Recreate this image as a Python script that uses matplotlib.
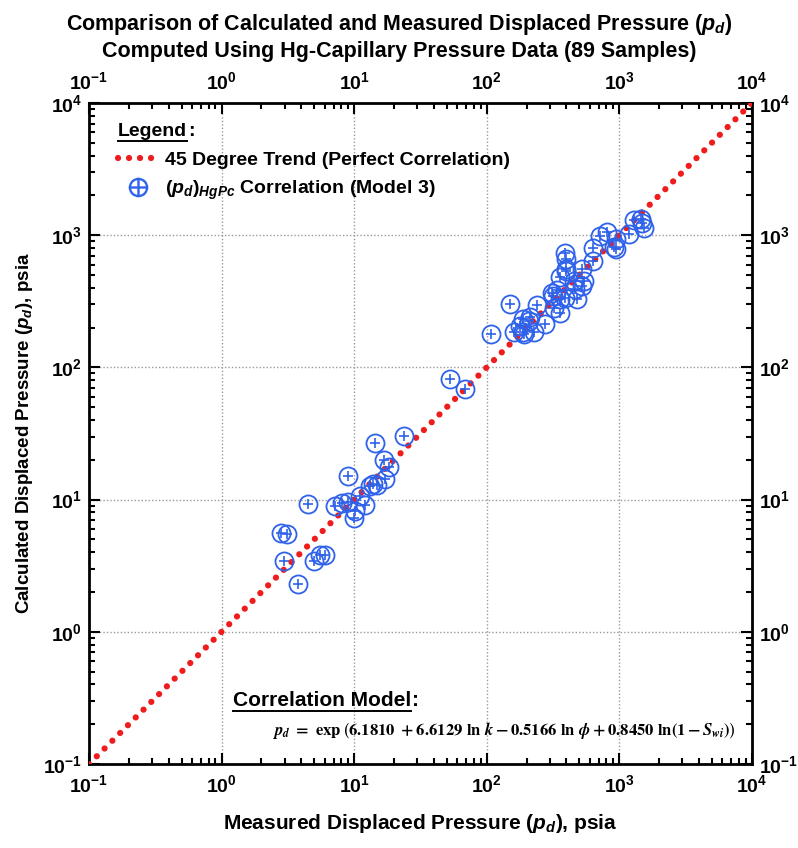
import matplotlib
matplotlib.use("Agg")
import matplotlib.pyplot as plt
from matplotlib.lines import Line2D
from matplotlib.ticker import LogLocator, NullFormatter

# measured vs calculated displacement pressure, psia
measured = [2.79, 3.10, 2.97, 3.79, 4.99, 5.53, 6.04, 4.52, 7.23, 8.96, 10.2, 10.0,
            11.1, 12.1, 8.96, 14.0, 14.9, 17.2, 18.5, 16.9, 14.4, 23.9, 8.1, 13.2,
            53.2, 69.0,
            107, 149, 160, 188, 229, 214, 188, 278, 240, 321, 360, 318, 340, 393,
            482, 454, 540, 360, 400, 526, 400, 393, 637, 637, 723, 803, 940, 940,
            1184, 1537, 1291, 1449,
            192, 360, 526, 207, 180, 312, 468, 1493, 912, 400]
calculated = [5.6, 5.5, 3.41, 2.31, 3.45, 3.78, 3.83, 9.33, 8.9, 9.54, 8.15, 7.26,
              10.6, 9.17, 15.2, 13.2, 12.8, 14.3, 17.7, 19.9, 26.9, 30.2, 9.5, 12.6,
              82.0, 69.0,
              179, 304, 187, 185, 187, 242, 234, 212, 295, 283, 259, 347, 385, 337,
              331, 450, 450, 479, 537, 553, 658, 739, 643, 806, 988, 1059, 944, 792,
              1018, 1144, 1305, 1322,
              178, 327, 413, 224, 206, 368, 390, 1233, 808, 552]
trend = [0.1, 1e4]

BLUE = "#2f62ea"
RED = "#ee1c1c"
DOTS = (0, (0.01, 1.75))

plt.rcParams["font.family"] = ["Liberation Sans", "DejaVu Sans"]
plt.rcParams["font.weight"] = "bold"
plt.rcParams["axes.labelweight"] = "bold"
plt.rcParams["axes.unicode_minus"] = False
plt.rcParams["mathtext.fontset"] = "custom"
plt.rcParams["mathtext.rm"] = "Liberation Sans:bold"
plt.rcParams["mathtext.it"] = "Liberation Sans:italic:bold"
plt.rcParams["mathtext.bf"] = "Liberation Sans:bold"

fig = plt.figure(figsize=(7.98, 8.48), dpi=100)
ax = fig.add_axes([0.1115, 0.099, 0.8305, 0.7795])

ax.plot(trend, trend, color=RED, lw=4.5, ls=DOTS, dash_capstyle="round", zorder=3)
ax.plot(measured, calculated, ls="none", marker="o", ms=13, mfc="none", mec=BLUE,
        mew=1.3, zorder=4)
ax.plot(measured, calculated, ls="none", marker="+", ms=7.5, mec=BLUE, mew=1.2, zorder=4)

ax.set_xscale("log")
ax.set_yscale("log")
ax.set_xlim(0.1, 1e4)
ax.set_ylim(0.1, 1e4)

for axis in (ax.xaxis, ax.yaxis):
    axis.set_major_locator(LogLocator(base=10, numticks=10))
    axis.set_minor_locator(LogLocator(base=10, subs=range(2, 10), numticks=10))
    axis.set_minor_formatter(NullFormatter())

ax.tick_params(which="both", direction="in", top=True, right=True,
               labeltop=True, labelright=True, labelsize=14, width=1.5)
ax.tick_params(which="major", length=8, pad=7)
ax.tick_params(axis="y", which="major", right=True, pad=5)
ax.tick_params(which="minor", length=4)
for sp in ax.spines.values():
    sp.set_linewidth(2)

ax.grid(True, which="major", color="#9a9a9a", lw=1, ls=(0, (1, 1.5)))

ax.set_xlabel(r"Measured Displaced Pressure ($p_d$), psia", fontsize=15, labelpad=12)
ax.set_ylabel(r"Calculated Displaced Pressure ($p_d$), psia", fontsize=13.5, labelpad=6)
fig.text(0.5, 0.986, "Comparison of Calculated and Measured Displaced Pressure ($p_d$)\n"
         "Computed Using Hg-Capillary Pressure Data (89 Samples)",
         ha="center", va="top", fontsize=15.5, linespacing=1.25)

# legend block
handles = [Line2D([], [], color=RED, lw=4.5, ls=DOTS, dash_capstyle="round"),
           Line2D([], [], ls="none", marker="$\u2295$", ms=14, mec=BLUE, mfc=BLUE,
                  mew=0.1)]
labels = ["45 Degree Trend (Perfect Correlation)",
          r"$(p_d)_{HgPc}$ Correlation (Model 3)"]
ax.legend(handles, labels, loc="upper left", bbox_to_anchor=(0.044, 0.927),
          frameon=False, fontsize=14, handlelength=2.0, handletextpad=0.4,
          labelspacing=0.5, borderaxespad=0, borderpad=0)


def underlined(x, y, word, **kw):
    t = ax.text(x, y, word, transform=ax.transAxes, ha="left", va="baseline", **kw)
    fig.canvas.draw()
    bb = t.get_window_extent().transformed(ax.transAxes.inverted())
    ax.plot([bb.x0, bb.x1], [y - 0.007, y - 0.007], transform=ax.transAxes,
            color="black", lw=1.4, clip_on=False)
    ax.text(bb.x1 + 0.001, y, ":", transform=ax.transAxes, ha="left", va="baseline", **kw)


underlined(0.044, 0.95, "Legend", fontsize=14)
underlined(0.217, 0.088, "Correlation Model", fontsize=15)

ax.text(0.276, 0.044,
        r"$p_d\ =\ \exp\left(6.1810\ +6.6129\ \mathrm{ln}\ k-0.5166\ \mathrm{ln}\ \phi"
        r"+0.8450\ \mathrm{ln}\left(1-S_{wi}\right)\right)$",
        transform=ax.transAxes, ha="left", va="baseline", fontsize=12,
        fontweight="normal", math_fontfamily="stix")

fig.savefig("out.png", dpi=100)
